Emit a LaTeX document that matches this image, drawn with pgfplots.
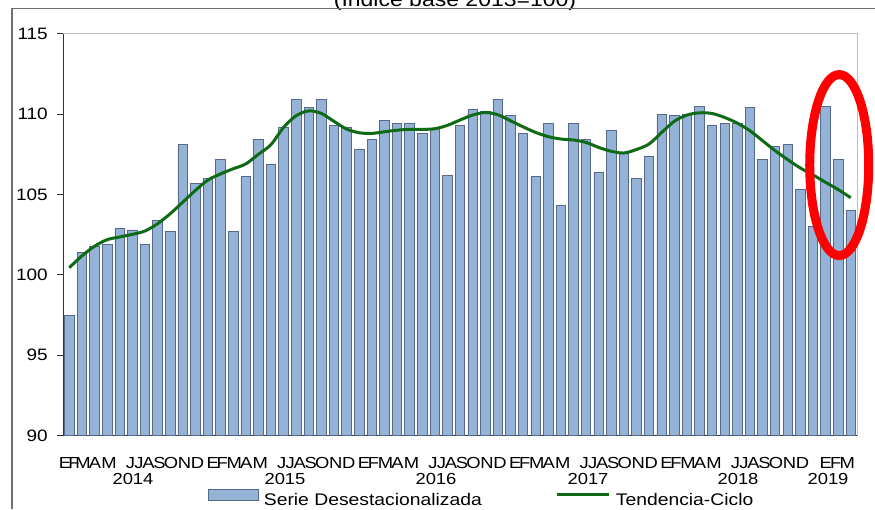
\documentclass[border=0pt]{standalone}
\usepackage{pgfplots}
\usepackage{pgfplotstable}
\pgfplotsset{compat=1.18}
\usepackage{fontspec}
\setmainfont{Liberation Sans}[FakeStretch=1.15]
\definecolor{barfill}{HTML}{95B3D7}
\definecolor{barline}{HTML}{56698A}
\definecolor{trendgreen}{HTML}{0E6A14}
\definecolor{framegray}{HTML}{6F6F6F}
\definecolor{boxgray}{HTML}{BFBFBF}
\pgfplotsset{
  barlegend/.style={legend image code/.code={\draw[##1] (0pt,0pt) rectangle (50pt,11.3pt);}},
  linelegend/.style={legend image code/.code={\draw[##1] (0pt,5.7pt) -- (52pt,5.7pt);}},
}
\pgfplotstableread{
x y t
0.5 97.5 100.45
1.5 101.4 101.18
2.5 101.8 101.78
3.5 101.9 102.19
4.5 102.9 102.36
5.5 102.8 102.52
6.5 101.9 102.73
7.5 103.4 103.18
8.5 102.7 103.80
9.5 108.1 104.52
10.5 105.7 105.25
11.5 106.0 105.90
12.5 107.2 106.28
13.5 102.7 106.60
14.5 106.1 106.90
15.5 108.4 107.50
16.5 106.9 108.10
17.5 109.2 109.17
18.5 110.9 109.90
19.5 110.4 110.20
20.5 110.9 110.04
21.5 109.3 109.55
22.5 109.2 109.07
23.5 107.8 108.84
24.5 108.4 108.80
25.5 109.6 108.90
26.5 109.4 109.00
27.5 109.4 109.05
28.5 108.8 109.05
29.5 109.1 109.09
30.5 106.2 109.30
31.5 109.3 109.63
32.5 110.3 109.94
33.5 110.2 110.10
34.5 110.9 109.96
35.5 109.9 109.59
36.5 108.8 109.21
37.5 106.1 108.86
38.5 109.4 108.60
39.5 104.3 108.45
40.5 109.4 108.39
41.5 108.4 108.24
42.5 106.4 107.93
43.5 109.0 107.69
44.5 107.6 107.58
45.5 106.0 107.80
46.5 107.4 108.14
47.5 110.0 108.86
48.5 109.9 109.55
49.5 110.0 109.94
50.5 110.5 110.08
51.5 109.3 110.04
52.5 109.4 109.79
53.5 109.4 109.44
54.5 110.4 108.97
55.5 107.2 108.35
56.5 108.0 107.73
57.5 108.1 107.17
58.5 105.3 106.65
59.5 103.0 106.22
60.5 110.5 105.76
61.5 107.2 105.31
62.5 104.0 104.80
}\bardata
\begin{document}
\begin{tikzpicture}[font=\fontsize{16.5}{19}\selectfont]
\useasboundingbox (0pt,0pt) rectangle (875pt,-509pt);
\fill[white] (0pt,0pt) rectangle (875pt,-509pt);
\begin{axis}[
  at={(63pt,-435.7pt)}, anchor=south west,
  scale only axis, width=794pt, height=402pt,
  xmin=0, xmax=63, ymin=90, ymax=115,
  axis x line*=bottom, axis y line*=left,
  axis line style={-, line width=1pt, black!80},
  tick align=outside,
  major tick length=6pt,
  ytick={90,95,100,105,110,115},
  ytick style={line width=1pt, black!80},
  /pgf/number format/assume math mode=true,
  yticklabel style={anchor=east, inner sep=0pt, xshift=-9pt, font=\fontsize{16.5}{19}\selectfont},
  xtick={0.159,0.873,1.587,2.540,3.651,5.357,6.032,6.786,7.659,8.571,9.643,10.675,
         11.881,12.635,13.587,14.540,15.651,17.357,18.032,18.786,19.659,20.571,21.643,22.675,
         23.881,24.635,25.587,26.540,27.651,29.357,30.032,30.786,31.659,32.571,33.643,34.675,
         35.881,36.635,37.587,38.540,39.651,41.357,42.032,42.786,43.659,44.571,45.643,46.675,
         47.881,48.635,49.587,50.540,51.651,53.357,54.032,54.786,55.659,56.571,57.643,58.675,
         60.516,61.310,62.222},
  xticklabels={E,F,M,A,M,J,J,A,S,O,N,D,E,F,M,A,M,J,J,A,S,O,N,D,E,F,M,A,M,J,J,A,S,O,N,D,
               E,F,M,A,M,J,J,A,S,O,N,D,E,F,M,A,M,J,J,A,S,O,N,D,E,F,M},
  xtick style={draw=none},
  xticklabel style={anchor=base, inner sep=0pt, yshift=-27pt, font=\fontsize{16}{18}\selectfont},
  extra x ticks={0,12,24,36,48,60},
  extra x tick labels={},
  extra x tick style={tick style={draw=black!80, line width=1pt}},
  legend columns=2,
  legend cell align=left,
  legend style={at={(0.1826,-0.155)}, anchor=west, draw=none, fill=none,
    inner sep=0pt, nodes={inner sep=0pt}, font=\fontsize{16.8}{19}\selectfont,
    /tikz/every odd column/.append style={column sep=5pt},
    /tikz/every even column/.append style={column sep=74pt}},
]
\addplot[ybar, bar width=9.5pt, fill=barfill, draw=barline, line width=0.7pt, barlegend]
  table[x=x, y=y] {\bardata};
\addlegendentry{Serie Desestacionalizada}
\addplot[trendgreen, line width=3pt, smooth, linelegend]
  table[x=x, y=t] {\bardata};
\addlegendentry{Tendencia-Ciclo}
\coordinate (ell) at (axis cs:61.59,106.83);
\end{axis}
\draw[boxgray, line width=1pt] (63pt,-33.7pt) -- (857pt,-33.7pt) -- (857pt,-435.7pt);
\draw[red, line width=9pt] (ell) ellipse [x radius=29.5pt, y radius=90.5pt];
\foreach \yr/\xc in {2014/133, 2015/285, 2016/436, 2017/588, 2018/738, 2019/828}{
  \node[anchor=base, inner sep=0pt, font=\fontsize{16}{18}\selectfont] at (\xc pt,-484pt) {\yr};
}
\node[anchor=base, inner sep=0pt, font=\fontsize{20}{24}\selectfont] at (455pt,-6.5pt) {(Índice base 2013=100)};
\draw[framegray, line width=1.5pt] (12pt,-509pt) -- (12pt,-8.3pt) -- (875pt,-8.3pt);
\end{tikzpicture}
\end{document}
